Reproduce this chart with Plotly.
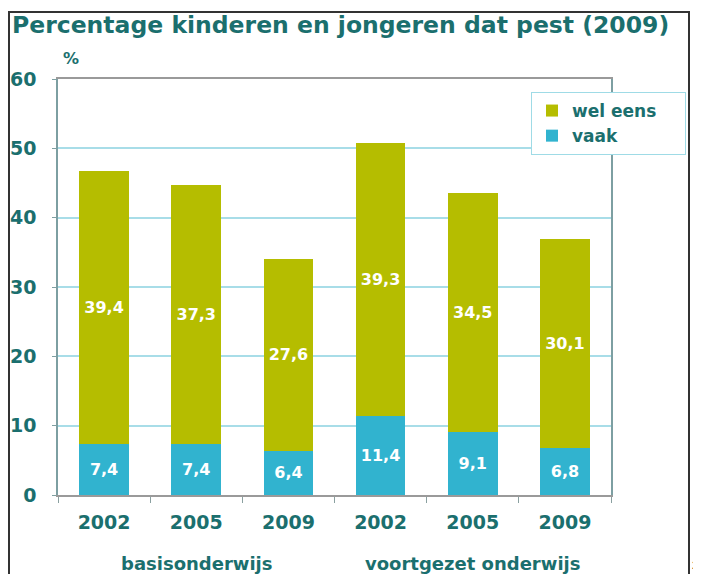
import plotly.graph_objects as go

years = ["2002", "2005", "2009", "2002", "2005", "2009"]
groups = ["basisonderwijs", "voortgezet onderwijs"]
vaak = [7.4, 7.4, 6.4, 11.4, 9.1, 6.8]
wel_eens = [39.4, 37.3, 27.6, 39.3, 34.5, 30.1]
yticks = [0, 10, 20, 30, 40, 50, 60]

def fmt(v):
    return f"{v:.1f}".replace(".", ",")

TEAL = "#1b6f6e"
OLIVE = "#b5bd00"
CYAN = "#31b3cf"
FONT = "DejaVu Sans, Verdana, sans-serif"
PAD = "\u00a0" * 4

# the page body has an 8px margin; the figure is sized to fit the window
W, H = 693, 566
L, R, T, B = 50, 90, 71, 79
PW, PH = W - L - R, H - T - B

xs = list(range(len(years)))

fig = go.Figure()
fig.add_trace(go.Bar(
    x=xs, y=vaak, name="vaak", marker_color=CYAN,
    marker_line_width=0,
    text=[fmt(v) for v in vaak], textposition="inside", insidetextanchor="middle",
    textfont=dict(color="white", size=16, family=FONT, weight="bold"),
    textangle=0,
))
fig.add_trace(go.Bar(
    x=xs, y=wel_eens, name="wel eens" + PAD, marker_color=OLIVE,
    marker_line_width=0,
    text=[fmt(v) for v in wel_eens], textposition="inside", insidetextanchor="middle",
    textfont=dict(color="white", size=16, family=FONT, weight="bold"),
    textangle=0,
))

fig.update_layout(
    width=W, height=H,
    margin=dict(l=L, r=R, t=T, b=B, autoexpand=False),
    barmode="stack", bargap=0.46,
    plot_bgcolor="white", paper_bgcolor="white",
    font=dict(family=FONT, color=TEAL),
    uniformtext=dict(minsize=10, mode="show"),
    title=dict(
        text="<b>Percentage kinderen en jongeren dat pest (2009)</b>",
        xref="container", x=4/W, xanchor="left",
        yref="container", y=1-17/H, yanchor="middle",
        font=dict(size=23.5, color=TEAL, family=FONT),
        automargin=False,
    ),
    legend=dict(
        x=(531-58)/PW, y=1-(92-79)/PH, xanchor="left", yanchor="top",
        traceorder="reversed",
        bordercolor="#9fdbe6", borderwidth=1, bgcolor="white",
        font=dict(size=17, color=TEAL, family=FONT, weight="bold"),
        itemwidth=30, tracegroupgap=0,
    ),
    showlegend=True,
)

fig.update_xaxes(
    range=[-0.5, len(years) - 0.5], automargin=False,
    tickvals=xs, ticktext=[f"<b>{y}</b>" for y in years],
    tickfont=dict(size=19, color=TEAL, family=FONT),
    ticks="", ticklabelstandoff=9,
    showline=True, linecolor="#9a9a9a", linewidth=1.5, mirror=True,
    showgrid=False, zeroline=False,
    minor=dict(tick0=-0.5, dtick=1, ticks="outside", ticklen=6, tickcolor="#8aa0a0", showgrid=False),
)
fig.update_yaxes(
    range=[0, 60], automargin=False,
    tickvals=yticks, ticktext=[f"<b>{t}</b>" for t in yticks],
    tickfont=dict(size=19, color=TEAL, family=FONT),
    ticks="outside", ticklen=4, tickcolor="#7fa0a2", ticklabelstandoff=12,
    showline=True, linecolor="#7d9fa2", linewidth=1.5, mirror=True,
    showgrid=True, gridcolor="#a8dde8", gridwidth=1.5,
    zeroline=False,
)

# group labels
for i, g in enumerate(groups):
    fig.add_annotation(
        x=1 + 3 * i, y=-(563-495)/PH, xref="x", yref="paper",
        text=f"<b>{g}</b>", showarrow=False, yanchor="middle",
        font=dict(size=18, color=TEAL, family=FONT),
    )

fig.add_annotation(x=0.005, y=1.05, xref="paper", yref="paper", text="<b>%</b>",
                   showarrow=False, xanchor="left", yanchor="middle",
                   font=dict(size=16, color=TEAL, family=FONT))
fig.add_annotation(x=(691-58)/PW, y=-(572-495)/PH, xref="paper", yref="paper", text="2",
                   showarrow=False, xanchor="left", yanchor="bottom", borderpad=0,
                   font=dict(size=11, color="#222222", family="Liberation Sans, Arial"))

# outer frame
fig.add_shape(type="rect", xref="paper", yref="paper",
              x0=(9-58)/PW, x1=(689-58)/PW,
              y0=-(590-495)/PH, y1=1+(79-12)/PH,
              line=dict(color="#333333", width=2), fillcolor="rgba(0,0,0,0)", layer="above")

fig.write_html("out.html")
